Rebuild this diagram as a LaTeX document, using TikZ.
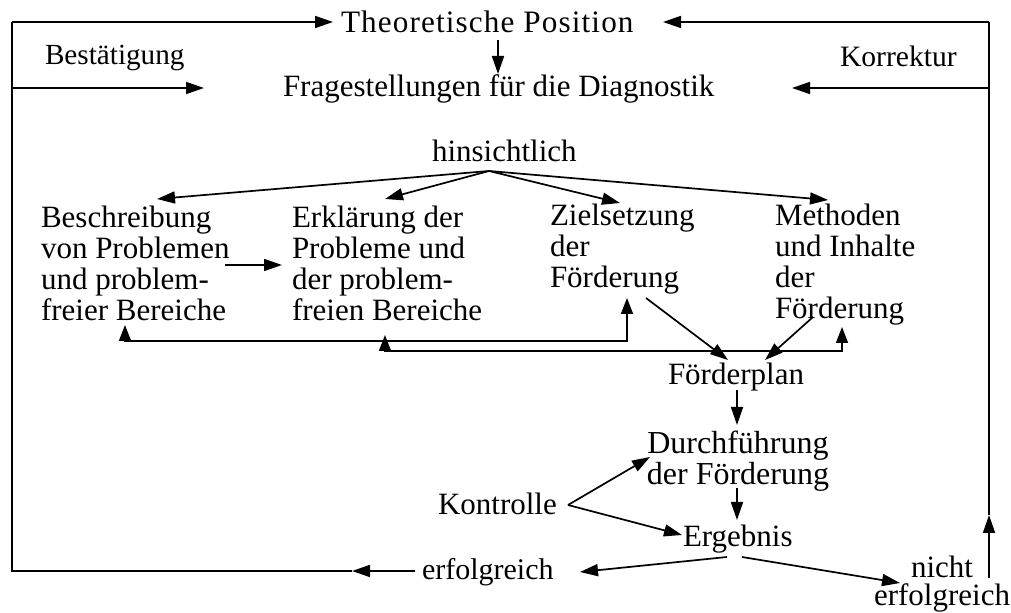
\documentclass[tikz,border=0pt]{standalone}
\usepackage{fontspec}
\setmainfont{Liberation Serif}
\newfontfamily\spacedfont[LetterSpace=3.6]{Liberation Serif}
\usetikzlibrary{arrows.meta,calc}
\begin{document}
\begin{tikzpicture}[x=0.5pt,y=-0.5pt,
  txt/.style={inner sep=0pt,outer sep=0pt,font=\fontsize{15.5}{15.5}\selectfont},
  blk/.style={txt,align=left,anchor=north west},
  cblk/.style={txt,align=center,anchor=north},
  one/.style={txt,anchor=base west},
  conn/.style={line width=0.85pt},
  arr/.style={conn,-{Triangle[length=9pt,width=6pt]}},
  biarr/.style={conn,{Triangle[length=8pt,width=6pt]}-{Triangle[length=8pt,width=6pt]}}]
\useasboundingbox (0,0) rectangle (1011,613);

% text nodes
\node[one,font=\spacedfont\fontsize{15.6}{16}\selectfont] (TP) at (341,33) {Theoretische Position};
\node[one] (FR) at (283,97) {Fragestellungen für die Diagnostik};
\node[one,font=\fontsize{14.6}{15}\selectfont] (BS) at (45,65) {Bestätigung};
\node[one,font=\fontsize{14.8}{15}\selectfont] (KO) at (840,67) {Korrektur};
\node[one] (HI) at (432,162) {hinsichtlich};
\node[blk] (BE) at (41,206) {Beschreibung\\von Problemen\\und problem-\\freier Bereiche};
\node[blk] (ER) at (292,206) {Erklärung der\\Probleme und\\der problem-\\freien Bereiche};
\node[blk] (ZI) at (550,204) {Zielsetzung\\der\\Förderung};
\node[blk] (ME) at (775,204) {Methoden\\und Inhalte\\der\\Förderung};
\node[one] (FP) at (668,385) {Förderplan};
\node[cblk,font=\fontsize{16}{15.5}\selectfont] (DF) at (738,430.5) {Durchführung\\der Förderung};
\node[one] (KT) at (438,515) {Kontrolle};
\node[one] (EG) at (683,547) {Ergebnis};
\node[one,font=\fontsize{15}{15}\selectfont] (EF) at (422,580) {erfolgreich};
\node[cblk] (NE) at (942,556) {nicht\\[-1.5pt]erfolgreich};

% frame coordinates
\coordinate (tl) at (12,22);
\coordinate (ml) at (12,88);
\coordinate (bl) at (12,571);
\coordinate (tr) at (989,22);
\coordinate (mr) at (989,88);
\coordinate (br) at (989,578);
\coordinate (efs) at (415,571);
\coordinate (efa) at (352,571);
\coordinate (nea) at (989,515);
\coordinate (tpl) at (333,22);
\coordinate (tpr) at (663,22);
\coordinate (frl) at (204,88);
\coordinate (frr) at (792,88);

% frame loops
\draw[arr] (efs) -- (efa);
\draw[conn] (efa) -- (bl) -- (tl);
\draw[arr] (tl) -- (tpl);
\draw[arr] (ml) -- (frl);
\draw[arr] (br) -- (nea);
\draw[conn] (nea) -- (tr);
\draw[arr] (tr) -- (tpr);
\draw[arr] (mr) -- (frr);

% theoretical position -> questions
\coordinate (tp1) at (498,40);
\coordinate (fr1) at (498,74);
\draw[arr] (tp1) -- (fr1);

% fan from hinsichtlich
\coordinate (hx) at (489,171);
\coordinate (be1) at (157,199);
\coordinate (er1) at (385,199);
\coordinate (zi1) at (620,203);
\coordinate (me1) at (828,200);
\draw[arr] (hx) -- (be1);
\draw[arr] (hx) -- (er1);
\draw[arr] (hx) -- (zi1);
\draw[arr] (hx) -- (me1);

% Beschreibung -> Erklaerung
\coordinate (be2) at (225,265);
\coordinate (er2) at (282,265);
\draw[arr] (be2) -- (er2);

% return lines
\coordinate (beA) at (125,325);
\coordinate (ziA) at (627,298);
\draw[biarr] (beA) -- (125,341) -- (627,341) -- (ziA);
\coordinate (erB) at (385,335);
\coordinate (meB) at (842,327);
\draw[biarr] (erB) -- (385,351) -- (842,351) -- (meB);

% to Foerderplan
\coordinate (zi3) at (646,298);
\coordinate (fp1) at (728,360);
\coordinate (me3) at (813,317);
\coordinate (fp2) at (765,360);
\draw[arr] (zi3) -- (fp1);
\draw[arr] (me3) -- (fp2);

% vertical chain
\coordinate (fp3) at (737,390);
\coordinate (df1) at (737,425);
\coordinate (df2) at (737,488);
\coordinate (eg1) at (737,520);
\draw[arr] (fp3) -- (df1);
\draw[arr] (df2) -- (eg1);

% Kontrolle
\coordinate (kt1) at (568,505);
\coordinate (df3) at (650,457);
\coordinate (eg2) at (682,535);
\draw[arr] (kt1) -- (df3);
\draw[arr] (kt1) -- (eg2);

% Ergebnis branches
\coordinate (eg3) at (727,557);
\coordinate (ef1) at (580,572);
\coordinate (eg4) at (742,557);
\coordinate (ne1) at (900,583);
\draw[arr] (eg3) -- (ef1);
\draw[arr] (eg4) -- (ne1);
\end{tikzpicture}
\end{document}
